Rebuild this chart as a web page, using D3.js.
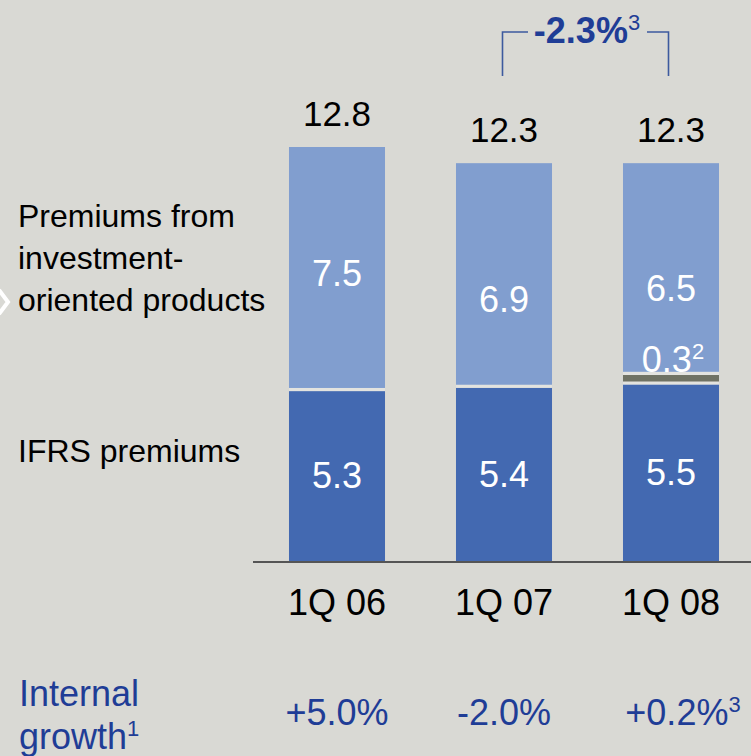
<!DOCTYPE html>
<html>
<head>
<meta charset="utf-8">
<script src="https://cdn.jsdelivr.net/npm/d3@7"></script>
<style>
  body { margin: 0; background: #d9d9d4; }
  svg { display: block; font-family: "Liberation Sans", Arial, sans-serif; }
</style>
</head>
<body>
<div class="container"></div>
<script>
const categories = ['1Q 06', '1Q 07', '1Q 08'];
const ifrs = [5.3, 5.4, 5.5];
const other = [0, 0, 0.3];
const investment = [7.5, 6.9, 6.5];
const totals = [12.8, 12.3, 12.3];
const growth = ['+5.0%', '-2.0%', '+0.2%'];
const growthNote = ['', '', '3'];
const change = '-2.3%';

const w = 751, h = 756;
const base = 561;
const investShift = [5, 24, 20];

const svg = d3.select('.container')
  .append('svg')
  .attr('width', w)
  .attr('height', h)
  .style('background', '#d9d9d4');

const x = d3.scaleBand()
  .domain(categories)
  .range([253.5, 754.5])
  .paddingInner(0.425)
  .paddingOuter(0.2125);

const y = d3.scaleLinear()
  .domain([0, 12.8])
  .range([base, 147]);

const rows = categories.map((c, i) => {
  const s1 = ifrs[i], s2 = s1 + other[i], s3 = s2 + investment[i];
  return { c, i, segs: [
    { y0: 0, y1: s1, fill: '#4369b1', v: ifrs[i] },
    { y0: s1, y1: s2, fill: '#6f7264', v: other[i] },
    { y0: s2, y1: s3, fill: '#819ecf', v: investment[i] }
  ]};
});

const bars = svg.selectAll('g.bar')
  .data(rows)
  .enter()
  .append('g')
  .attr('class', 'bar');

bars.selectAll('rect.seg')
  .data(d => d.segs.filter(s => s.v > 0).map(s => ({ ...s, c: d.c })))
  .enter()
  .append('rect')
  .attr('class', 'seg')
  .attr('x', d => x(d.c))
  .attr('width', x.bandwidth())
  .attr('y', d => y(d.y1))
  .attr('height', d => y(d.y0) - y(d.y1))
  .attr('fill', d => d.fill);

// light separators between segments
bars.selectAll('rect.gap')
  .data(d => d.segs.slice(0, 2).filter(s => s.v > 0).map(s => ({ v: s.y1, c: d.c })))
  .enter()
  .append('rect')
  .attr('class', 'gap')
  .attr('x', d => x(d.c))
  .attr('width', x.bandwidth())
  .attr('y', d => y(d.v) - 1.6)
  .attr('height', 3.2)
  .attr('fill', '#e3e3df');

// axis line
svg.append('line')
  .attr('x1', 253).attr('x2', w)
  .attr('y1', base + 1).attr('y2', base + 1)
  .attr('stroke', '#555')
  .attr('stroke-width', 2);

const cx = c => x(c) + x.bandwidth() / 2;

// totals
svg.selectAll('text.total')
  .data(totals)
  .enter()
  .append('text')
  .attr('x', (d, i) => cx(categories[i]))
  .attr('y', d => y(d) - 21)
  .attr('text-anchor', 'middle')
  .attr('font-size', 35)
  .attr('fill', '#000')
  .text(d => d.toFixed(1));

// inside labels
svg.selectAll('text.inv')
  .data(investment)
  .enter()
  .append('text')
  .attr('x', (d, i) => cx(categories[i]))
  .attr('y', (d, i) => {
    const b = ifrs[i] + other[i];
    return (y(b) + y(b + d)) / 2 + 13 + investShift[i];
  })
  .attr('text-anchor', 'middle')
  .attr('font-size', 36)
  .attr('fill', '#fff')
  .text(d => d.toFixed(1));

svg.selectAll('text.ifrs')
  .data(ifrs)
  .enter()
  .append('text')
  .attr('x', (d, i) => cx(categories[i]))
  .attr('y', d => (y(0) + y(d)) / 2 + 13)
  .attr('text-anchor', 'middle')
  .attr('font-size', 36)
  .attr('fill', '#fff')
  .text(d => d.toFixed(1));

other.forEach((v, i) => {
  if (!v) return;
  const t = svg.append('text')
    .attr('x', cx(categories[i]) + 2)
    .attr('y', y(ifrs[i] + v) - 1)
    .attr('text-anchor', 'middle')
    .attr('font-size', 36)
    .attr('fill', '#fff');
  t.append('tspan').text(v.toFixed(1));
  t.append('tspan').attr('font-size', 22).attr('dy', -13).text('2');
});

// category labels
svg.selectAll('text.cat')
  .data(categories)
  .enter()
  .append('text')
  .attr('x', d => cx(d))
  .attr('y', 615)
  .attr('text-anchor', 'middle')
  .attr('font-size', 36)
  .attr('fill', '#000')
  .text(d => d);

// left legend labels
const left = svg.append('g').attr('font-size', 32).attr('fill', '#000');
['Premiums from', 'investment-', 'oriented products'].forEach((s, i) => {
  left.append('text').attr('x', 18).attr('y', 227 + i * 42).text(s);
});
left.append('text').attr('x', 18).attr('y', 462).text('IFRS premiums');

svg.append('path')
  .attr('d', 'M-1,290 L8,302 L-1,314')
  .attr('fill', 'none')
  .attr('stroke', '#fff')
  .attr('stroke-width', 4);

// internal growth row
const blue = '#1f3d96';
const ig = svg.append('g').attr('font-size', 36).attr('fill', blue);
ig.append('text').attr('x', 19).attr('y', 706).text('Internal');
const g2 = ig.append('text').attr('x', 19).attr('y', 749);
g2.append('tspan').text('growth');
g2.append('tspan').attr('font-size', 22).attr('dy', -13).text('1');

growth.forEach((g, i) => {
  const t = ig.append('text')
    .attr('x', cx(categories[i]) + (growthNote[i] ? 12 : 0))
    .attr('y', 725)
    .attr('text-anchor', 'middle');
  t.append('tspan').text(g);
  if (growthNote[i]) t.append('tspan').attr('font-size', 22).attr('dy', -13).text(growthNote[i]);
});

// bracket
const bx1 = cx(categories[1]) - 1.5, bx2 = cx(categories[2]) - 2.5;
svg.append('path')
  .attr('d', `M${bx1},76 V32 H528 M647,32 H${bx2} V76`)
  .attr('fill', 'none')
  .attr('stroke', '#3d5a9e')
  .attr('stroke-width', 1.6);
const bt = svg.append('text')
  .attr('x', 587)
  .attr('y', 43)
  .attr('text-anchor', 'middle')
  .attr('fill', blue);
bt.append('tspan').attr('font-size', 36).attr('font-weight', 'bold').text(change);
bt.append('tspan').attr('font-size', 22).attr('dy', -13).text('3');
</script>
</body>
</html>
